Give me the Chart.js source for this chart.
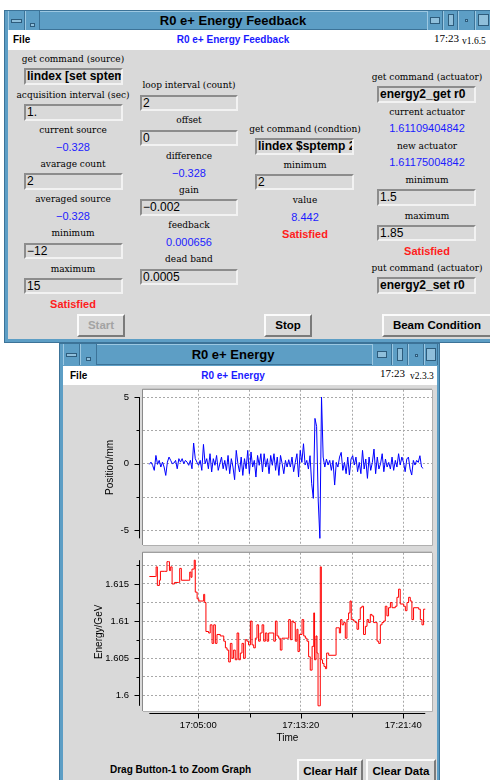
<!DOCTYPE html>
<html>
<head>
<meta charset="utf-8">
<title>R0 e+ Energy Feedback</title>
<script src="https://cdn.jsdelivr.net/npm/chart.js@4.4.1/dist/chart.umd.min.js"></script>
<style>
  html, body { margin:0; padding:0; background:#fff; }
  body { width:490px; height:780px; position:relative; overflow:hidden; font-family:"Liberation Sans", Arial, sans-serif; color:#000; }
  .box { position:absolute; box-sizing:border-box; }
  .frame { background:#5d9ec5; border:1px solid #3c7398; }
  .tbar { background:#5d9ec5; border-top:1px solid #9cc8e2; border-bottom:1px solid #3c7398; }
  .tbtn { background:#5d9ec5; border-left:1px solid #9cc8e2; border-right:1px solid #3c7398; }
  .glyph { position:absolute; box-sizing:border-box; border:1px solid #2e5c7c; background:#8fbfdb; }
  .ttl { position:absolute; font-weight:bold; font-size:13px; text-align:center; white-space:nowrap; }
  .menu { background:#fff; }
  .grey { background:#d9d9d9; }
  .mtxt { position:absolute; white-space:nowrap; font-weight:bold; font-size:10px; }
  .blue { color:#1a1aff; }
  .clock { position:absolute; white-space:nowrap; font-family:"Liberation Serif", serif; font-size:11px; }
  .ver { position:absolute; white-space:nowrap; font-family:"Liberation Serif", serif; font-size:9.5px; }
  .lbl { position:absolute; width:200px; height:14px; line-height:14px; text-align:center; white-space:nowrap; font-family:"DejaVu Serif", serif; font-size:9px; }
  .val { font-family:"Liberation Sans", Arial, sans-serif; font-size:11px; color:#1c1cff; }
  .ok { font-family:"Liberation Sans", Arial, sans-serif; font-size:11px; font-weight:bold; color:#ff1c1c; }
  .ent { position:absolute; box-sizing:border-box; border:2px solid; border-color:#8c8c8c #f2f2f2 #f2f2f2 #8c8c8c; background:#d9d9d9; font-size:12px; padding-left:1px; white-space:nowrap; overflow:hidden; }
  .ent.b { font-weight:bold; }
  .btn { position:absolute; box-sizing:border-box; border:2px solid; border-color:#fbfbfb #7a7a7a #7a7a7a #fbfbfb; background:#d9d9d9; font-weight:bold; font-size:11.5px; text-align:center; white-space:nowrap; }
  .btn.off { color:#a3a3a3; }
  canvas { position:absolute; z-index:2; }
</style>
</head>
<body>
<canvas id="posChart" width="374" height="165" style="left:63px; top:385px;"></canvas>
<canvas id="energyChart" width="374" height="200" style="left:63px; top:548px;"></canvas>
<script>
// sampling of the position monitor (seconds after 17:00:00)
const posStart = 61;
const posStep = 8;
const posValues = [
  -0.05, 0.12, -0.12, -0.5, 0.62, -0.05, 0.25, -0.25, 0.12, -0.25,
  -0.88, 0.12, 0.5, 0.25, 0, 0.05, 0.25, -0.38, 0.38, 0.12,
  0.38, 0, 0.25, 0.12, -0.12, 0.25, -0.38, 1.55, 0.38, 0.12,
  -0.12, 0.25, -0.5, 1.45, 0, 0.38, -0.38, 0.75, -0.62, 0.38,
  -0.12, 0.62, -0.5, 0, 0.5, -0.38, 0.25, -0.5, 0.62, -0.75,
  0.38, -0.25, -1.2, 1.0, 0, -0.62, 0.5, -0.88, 0.38, -0.38,
  1.0, -0.75, 0.88, -0.25, 0.25, -1.0, 0.62, -0.12, 0.75, -0.62,
  0.75, -0.25, 0.38, -0.75, 0.62, -0.12, 0.75, -0.5, 0.5, -0.88,
  0.62, 0, -0.75, 0.25, -0.25, 0.3,
  -0.25, 0.5, -0.6, 0.1, 0.75, -1.0, 1.0, 0.1, 1.5, -0.1, 0.25, -0.4, 0.6,
  -1.5, -2.6, 3.4, 2.8, -2.8, -5.6, 5.0,
  0.5, -0.25, 0.35, -0.1, 0.25, -0.5, 0.25, -1.6, 0.1, -0.25,
  0.5, 0.85, -0.5, 0.1, -0.75, 0.5, -0.85, 0.35, 0.6, -0.1,
  0.5, -0.6, 0.1, -0.75, 1.0, -0.4, 0.35, -1.1, 0.5, -0.5,
  0.1, 1.1, -0.75, 0.5, -0.4, 0, 0.75, -0.6, 0.35, -0.25,
  0.1, -0.4, 0.5, -0.5, 0.25, -0.25, 0.75, -0.1, 0.5, 0.1,
  -0.6, 0.35, 0.5, -0.4, -0.85, 0.25, -0.1, 0.25, 0.1, 0.6,
  -0.25, -0.35
];

// energy readings (seconds after 17:00:00, GeV)
const energyTimes = [
  61, 90, 94, 100, 110, 115, 136, 147, 155, 159,
  165, 172, 184, 204, 209, 217, 250, 258, 264, 269,
  280, 285, 294, 302, 318, 326, 331, 337, 350, 358,
  367, 375, 383, 391, 407, 424, 432, 440, 448, 456,
  464, 472, 480, 489, 497, 505, 513, 521, 529, 537,
  545, 554, 562, 570, 578, 586, 594, 602, 611, 619,
  627, 635, 643, 659, 668, 676, 684, 692, 700, 708,
  724, 741, 749, 757, 765, 773, 781, 786, 793, 806,
  814, 822, 830, 838, 846, 855, 863, 867, 874, 879,
  884, 890, 895, 900, 906, 913, 920, 926, 936, 968,
  972, 981, 988, 994, 1001, 1009, 1017, 1025, 1033, 1040,
  1046, 1058, 1066, 1074, 1082, 1090, 1098, 1106, 1115, 1123,
  1131, 1139, 1147, 1155, 1163, 1172, 1180, 1188, 1196, 1204,
  1212, 1220, 1228, 1237, 1245, 1261, 1269, 1277, 1285, 1302,
  1310, 1318, 1326, 1334, 1342, 1350, 1375, 1383, 1391, 1399,
  1407
];
const energyValues = [
  1.6160, 1.6160, 1.6173, 1.6148, 1.6155, 1.6167, 1.6167, 1.6180, 1.6180, 1.6168,
  1.6173, 1.6150, 1.6152, 1.6152, 1.6171, 1.6155, 1.6155, 1.6166, 1.6159, 1.6170,
  1.6182, 1.6139, 1.6130, 1.6127, 1.6127, 1.6136, 1.6125, 1.6086, 1.6084, 1.6095,
  1.6070, 1.6095, 1.6070, 1.6082, 1.6080, 1.6073, 1.6064, 1.6061, 1.6045, 1.6070,
  1.6050, 1.6061, 1.6048, 1.6084, 1.6048, 1.6057, 1.6070, 1.6050, 1.6075, 1.6073,
  1.6068, 1.6100, 1.6068, 1.6064, 1.6077, 1.6095, 1.6073, 1.6084, 1.6095, 1.6073,
  1.6084, 1.6073, 1.6084, 1.6084, 1.6073, 1.6100, 1.6080, 1.6077, 1.6061, 1.6077,
  1.6077, 1.6102, 1.6075, 1.6100, 1.6098, 1.6073, 1.6089, 1.6059, 1.6082, 1.6102,
  1.6080, 1.6077, 1.6073, 1.6052, 1.6034, 1.6066, 1.6111, 1.6048, 1.6080, 1.6057,
  1.5986, 1.5986, 1.6173, 1.6048, 1.6043, 1.6039, 1.6036, 1.6057, 1.6054, 1.6054,
  1.6091, 1.6091, 1.6084, 1.6102, 1.6095, 1.6098, 1.6077, 1.6102, 1.6111, 1.6127,
  1.6102, 1.6100, 1.6098, 1.6089, 1.6102, 1.6118, 1.6120, 1.6082, 1.6093, 1.6102,
  1.6098, 1.6109, 1.6107, 1.6098, 1.6098, 1.6073, 1.6070, 1.6095, 1.6098, 1.6100,
  1.6120, 1.6107, 1.6118, 1.6125, 1.6118, 1.6120, 1.6132, 1.6143, 1.6123, 1.6120,
  1.6114, 1.6125, 1.6132, 1.6127, 1.6102, 1.6118, 1.6116, 1.6102, 1.6095, 1.6116,
  1.6116
];

// axis ticks
const timeMajor = [300, 800, 1300];
const timeMinor = [550, 1050];
const posMajor = [-5, 0, 5];
const posMinor = [-2.5, 2.5];
const energyMajor = [1.6, 1.605, 1.61, 1.615];
const energyMinor = [1.6025, 1.6075, 1.6125, 1.6175];

// ---------- window chrome ----------
const ui = document.body;
const firstCanvas = document.getElementById('posChart');
function el(cls, x, y, w, h, txt) {
  const d = document.createElement('div');
  d.className = cls;
  Object.assign(d.style, { left: x + 'px', top: y + 'px', width: w + 'px', height: h + 'px' });
  if (txt != null) d.textContent = txt;
  ui.insertBefore(d, firstCanvas);
  return d;
}
function lbl(txt, cx, cy, extra) { el('lbl ' + (extra || ''), cx - 100, cy - 7, 200, 14, txt); }
function ent(txt, x1, y1, x2, y2, bold) {
  const d = el('ent' + (bold ? ' b' : ''), x1, y1, x2 - x1, y2 - y1, txt);
  d.style.lineHeight = (y2 - y1 - 4) + 'px';
}
function btn(txt, x1, y1, x2, y2, off) {
  const d = el('btn' + (off ? ' off' : ''), x1, y1, x2 - x1, y2 - y1, txt);
  d.style.lineHeight = (y2 - y1 - 4) + 'px';
}
function titleBar(x, y, w, h, left, right) {
  el('box tbar', x, y, w, h);
  left.forEach(b => el('box tbtn', b[0], y, b[1] - b[0], h));
  right.forEach(b => el('box tbtn', b[0], y, b[1] - b[0], h));
}

// top window
el('box frame', 4, 10, 492, 333);
titleBar(8, 11, 488, 19, [[8, 25], [25, 40]], [[427, 443], [443, 458], [458, 475], [475, 491]]);
el('glyph', 11, 19, 11, 4);
el('glyph', 30, 23, 5, 4);
el('glyph', 430, 17, 10, 7);
el('glyph', 448, 14, 6, 12);
el('glyph', 465, 19, 3, 3);
el('glyph', 478, 14, 11, 12);
el('ttl', 83, 11, 300, 19, 'R0 e+ Energy Feedback').style.lineHeight = '19px';
el('box menu', 8, 30, 488, 20);
el('mtxt', 13, 30, 40, 20, 'File').style.lineHeight = '20px';
const m1 = el('mtxt blue', 133, 30, 200, 20, 'R0 e+ Energy Feedback');
m1.style.lineHeight = '20px'; m1.style.textAlign = 'center';
el('clock', 434, 32, 30, 14, '17:23');
el('ver', 462, 36, 30, 12, 'v1.6.5');
el('box grey', 8, 50, 488, 289);

// column 1
lbl('get command (source)', 73, 59);
ent('lindex [set sptemp', 24, 68, 123, 85, true);
lbl('acquisition interval (sec)', 73, 95);
ent('1.', 24, 104, 123, 121);
lbl('current source', 73, 130);
lbl('\u22120.328', 73, 147, 'val');
lbl('avarage count', 73, 164);
ent('2', 24, 173, 123, 190);
lbl('averaged source', 73, 199);
lbl('\u22120.328', 73, 216, 'val');
lbl('minimum', 73, 233);
ent('\u221212', 24, 243, 123, 259);
lbl('maximum', 73, 269);
ent('15', 24, 278, 123, 294);
lbl('Satisfied', 73, 304, 'ok');
btn('Start', 77, 314, 125, 337, true);

// column 2
lbl('loop interval (count)', 189, 85);
ent('2', 140, 95, 238, 111);
lbl('offset', 189, 120);
ent('0', 140, 130, 238, 146);
lbl('difference', 189, 156);
lbl('\u22120.328', 189, 173, 'val');
lbl('gain', 189, 190);
ent('\u22120.002', 140, 199, 238, 216);
lbl('feedback', 189, 225);
lbl('0.000656', 189, 242, 'val');
lbl('dead band', 189, 259);
ent('0.0005', 140, 269, 238, 285);

// column 3
lbl('get command (condtion)', 305, 129);
ent('lindex $sptemp 2', 255, 138, 354, 155, true);
lbl('minimum', 305, 165);
ent('2', 255, 174, 354, 190);
lbl('value', 305, 200);
lbl('8.442', 305, 217, 'val');
lbl('Satisfied', 305, 234, 'ok');
btn('Stop', 264, 314, 312, 337);

// column 4
lbl('get command (actuator)', 427, 77);
ent('energy2_get r0', 377, 86, 476, 103, true);
lbl('current actuator', 427, 112);
lbl('1.61109404842', 427, 128, 'val');
lbl('new actuator', 427, 146);
lbl('1.61175004842', 427, 162, 'val');
lbl('minimum', 427, 180);
ent('1.5', 377, 189, 476, 206);
lbl('maximum', 427, 216);
ent('1.85', 377, 225, 476, 241);
lbl('Satisfied', 427, 251, 'ok');
lbl('put command (actuator)', 427, 268);
ent('energy2_set r0', 377, 277, 476, 294, true);
btn('Beam Condition', 382, 314, 492, 337);

// bottom window
el('box frame', 59, 343, 381, 440);
titleBar(63, 344, 374, 21, [[63, 80], [80, 97]], [[372, 392], [392, 408], [408, 424], [424, 438]]);
el('glyph', 66, 353, 11, 4);
el('glyph', 86, 357, 5, 4);
el('glyph', 377, 351, 10, 7);
el('glyph', 397, 348, 6, 13);
el('glyph', 415, 354, 3, 3);
el('glyph', 426, 348, 10, 13);
el('ttl', 83, 344, 300, 21, 'R0 e+ Energy').style.lineHeight = '21px';
el('box menu', 63, 366, 374, 19);
el('mtxt', 70, 366, 40, 19, 'File').style.lineHeight = '19px';
const m2 = el('mtxt blue', 133, 366, 200, 19, 'R0 e+ Energy');
m2.style.lineHeight = '19px'; m2.style.textAlign = 'center';
el('clock', 380, 367, 30, 14, '17:23');
el('ver', 410, 371, 30, 12, 'v2.3.3');
el('box grey', 63, 385, 374, 400);
const hint = el('mtxt', 110, 763, 160, 14, 'Drag Button-1 to Zoom Graph');
hint.style.lineHeight = '14px';
btn('Clear Half', 297, 759, 363, 783);
btn('Clear Data', 366, 759, 436, 783);

// ---------- charts ----------
const FONT = 'Liberation Sans';
const NONE = 'rgba(0,0,0,0)';
function hms(s) {
  return '17:' + String(Math.floor(s / 60)).padStart(2, '0') + ':' + String(s % 60).padStart(2, '0');
}

// white sunken plotting area + axis lines that span the data range
const bltAxes = {
  id: 'bltAxes',
  beforeDraw(chart) {
    const { ctx, chartArea: a } = chart;
    ctx.save();
    ctx.fillStyle = '#ffffff';
    ctx.fillRect(a.left, a.top, a.width, a.height);
    ctx.restore();
  },
  afterDraw(chart, args, opts) {
    const { ctx, chartArea: a, scales } = chart;
    const pts = chart.data.datasets[0].data;
    const xs = pts.map(p => p.x), ys = pts.map(p => p.y);
    ctx.save();
    ctx.lineWidth = 1;
    ctx.strokeStyle = '#8a8a8a';
    ctx.beginPath();
    ctx.moveTo(a.left - 0.5, a.bottom); ctx.lineTo(a.left - 0.5, a.top - 0.5); ctx.lineTo(a.right, a.top - 0.5);
    ctx.stroke();
    ctx.strokeStyle = '#b0b0b0';
    ctx.beginPath();
    ctx.moveTo(a.right + 0.5, a.top); ctx.lineTo(a.right + 0.5, a.bottom + 0.5); ctx.lineTo(a.left, a.bottom + 0.5);
    ctx.stroke();

    ctx.strokeStyle = '#000';
    const yS = scales.y, ax = Math.round(a.left) - 3.5;
    const yTop = yS.getPixelForValue(Math.max(...ys)), yBot = yS.getPixelForValue(Math.min(...ys));
    ctx.beginPath();
    ctx.moveTo(ax, yTop); ctx.lineTo(ax, yBot);
    yS.ticks.forEach(t => {
      const py = Math.round(yS.getPixelForValue(t.value)) + 0.5;
      if (py < yTop - 1 || py > yBot + 1) return;
      ctx.moveTo(ax, py); ctx.lineTo(ax - (t.label ? 5 : 3), py);
    });
    ctx.stroke();

    if (opts.xAxis) {
      const xS = scales.x, ay = Math.round(a.bottom) + 2.5;
      const xL = xS.getPixelForValue(Math.min(...xs)), xR = xS.getPixelForValue(Math.max(...xs));
      ctx.beginPath();
      ctx.moveTo(xL, ay); ctx.lineTo(xR, ay);
      xS.ticks.forEach(t => {
        const px = Math.round(xS.getPixelForValue(t.value)) + 0.5;
        if (px < xL - 1 || px > xR + 1) return;
        ctx.moveTo(px, ay); ctx.lineTo(px, ay + (t.label ? 5 : 4));
      });
      ctx.stroke();
    }
    ctx.restore();
  }
};

function timeScale(showLabels) {
  return {
    type: 'linear', min: 30, max: 1440,
    afterBuildTicks: s => { s.ticks = [...timeMajor, ...timeMinor].sort((p, q) => p - q).map(v => ({ value: v })); },
    afterFit: s => { s.height = showLabels ? 37 : 0; },
    grid: { color: '#a8a8a8', drawTicks: true, tickLength: 10, tickColor: NONE },
    border: { display: false, dash: [2, 2] },
    ticks: { display: showLabels, padding: 0, maxRotation: 0, autoSkip: false, color: '#000',
             font: { family: FONT, size: 9.5, lineHeight: 1 }, callback: v => timeMajor.includes(v) ? hms(v) : '' },
    title: { display: showLabels, text: 'Time', color: '#000', font: { family: FONT, size: 10 }, padding: { top: 0, bottom: 4 } }
  };
}

function valueScale(min, max, major, minor, text, titlePad) {
  return {
    min, max,
    afterBuildTicks: s => { s.ticks = [...minor, ...major].sort((p, q) => p - q).map(v => ({ value: v })); },
    afterFit: s => { s.width = 80; },
    grid: { color: '#a8a8a8', drawTicks: true, tickLength: 14, tickColor: NONE },
    border: { display: false, dash: [2, 2] },
    ticks: { padding: 0, color: '#000', font: { family: FONT, size: 9.5, lineHeight: 1 }, callback: v => major.includes(v) ? String(v) : '' },
    title: { display: true, text, color: '#000', font: { family: FONT, size: 10 }, padding: { top: titlePad, bottom: 0 } }
  };
}

const common = { responsive: false, animation: false, events: [] };

new Chart(document.getElementById('posChart'), {
  type: 'line',
  data: { datasets: [{
    data: posValues.map((v, i) => ({ x: posStart + i * posStep, y: v })),
    borderColor: '#0000ff', borderWidth: 1, pointRadius: 0, tension: 0
  }] },
  options: Object.assign({}, common, {
    layout: { autoPadding: false, padding: { top: 4, right: 5, bottom: 5, left: 0 } },
    plugins: { legend: { display: false }, tooltip: { enabled: false }, bltAxes: { xAxis: false } },
    scales: { x: timeScale(false), y: valueScale(-6.1, 5.55, posMajor, posMinor, 'Position/mm', 41) }
  }),
  plugins: [bltAxes]
});

new Chart(document.getElementById('energyChart'), {
  type: 'line',
  data: { datasets: [{
    data: energyTimes.map((t, i) => ({ x: t, y: energyValues[i] })),
    borderColor: '#ff0000', borderWidth: 1, pointRadius: 0, stepped: true
  }] },
  options: Object.assign({}, common, {
    layout: { autoPadding: false, padding: { top: 4, right: 5, bottom: 0, left: 0 } },
    plugins: { legend: { display: false }, tooltip: { enabled: false }, bltAxes: { xAxis: true } },
    scales: { x: timeScale(true), y: valueScale(1.5979, 1.6192, energyMajor, energyMinor, 'Energy/GeV', 30) }
  }),
  plugins: [bltAxes]
});
</script>
</body>
</html>
